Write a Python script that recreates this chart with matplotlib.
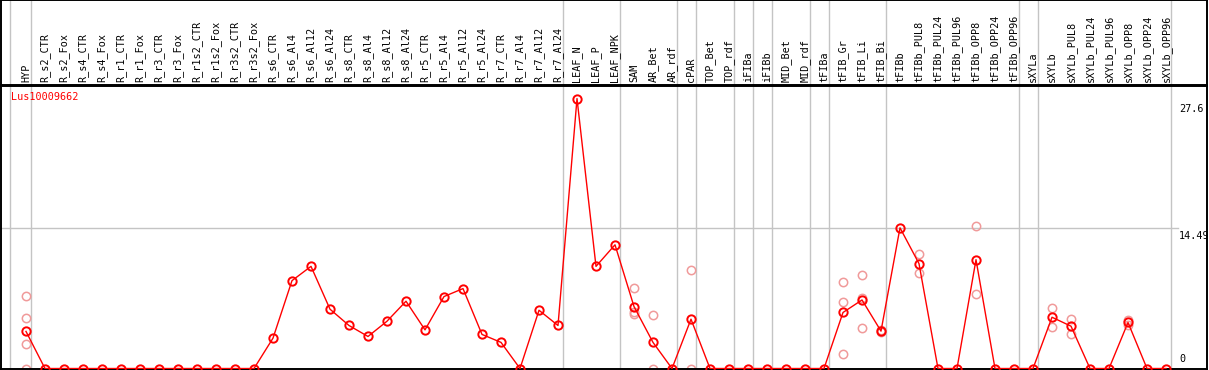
import matplotlib
matplotlib.use("Agg")
import matplotlib.pyplot as plt

# sample names, in plot order
samples = ["HYP", "R_s2_CTR", "R_s2_Fox", "R_s4_CTR", "R_s4_Fox", "R_r1_CTR", "R_r1_Fox",
           "R_r3_CTR", "R_r3_Fox", "R_r1s2_CTR", "R_r1s2_Fox", "R_r3s2_CTR", "R_r3s2_Fox",
           "R_s6_CTR", "R_s6_Al4", "R_s6_Al12", "R_s6_Al24", "R_s8_CTR", "R_s8_Al4",
           "R_s8_Al12", "R_s8_Al24", "R_r5_CTR", "R_r5_Al4", "R_r5_Al12", "R_r5_Al24",
           "R_r7_CTR", "R_r7_Al4", "R_r7_Al12", "R_r7_Al24", "LEAF_N", "LEAF_P", "LEAF_NPK",
           "SAM", "AR_Bet", "AR_rdf", "cPAR", "TOP_Bet", "TOP_rdf", "iFIBa", "iFIBb",
           "MID_Bet", "MID_rdf", "tFIBa", "tFIB_Gr", "tFIB_Li", "tFIB_Bi", "tFIBb",
           "tFIBb_PUL8", "tFIBb_PUL24", "tFIBb_PUL96", "tFIBb_OPP8", "tFIBb_OPP24",
           "tFIBb_OPP96", "sXYLa", "sXYLb", "sXYLb_PUL8", "sXYLb_PUL24", "sXYLb_PUL96",
           "sXYLb_OPP8", "sXYLb_OPP24", "sXYLb_OPP96"]

# mean expression per sample
means = [3.82, 0, 0, 0, 0, 0, 0, 0, 0, 0, 0, 0, 0,
         3.13, 9.05, 10.52, 6.11, 4.43, 3.30, 4.87, 6.93, 3.98, 7.41, 8.23, 3.51,
         2.69, 0, 6.00, 4.43, 27.8, 10.52, 12.74,
         6.38, 2.69, 0, 5.08, 0, 0, 0, 0, 0, 0, 0, 5.77, 7.06, 3.85, 14.49,
         10.80, 0, 0, 11.21, 0, 0, 0, 5.28, 4.36, 0, 0, 4.74, 0, 0]

# single replicates (sample, value)
rep_samples = ["HYP", "HYP", "HYP", "HYP", "SAM", "SAM", "SAM", "AR_Bet", "AR_Bet",
               "cPAR", "cPAR", "tFIB_Gr", "tFIB_Gr", "tFIB_Gr", "tFIB_Li", "tFIB_Li",
               "tFIB_Li", "tFIB_Bi", "tFIB_Bi", "tFIBb_PUL8", "tFIBb_PUL8",
               "tFIBb_OPP8", "tFIBb_OPP8", "sXYLb", "sXYLb", "sXYLb_PUL8", "sXYLb_PUL8",
               "sXYLb_OPP8", "sXYLb_OPP8"]
rep_values = [7.51, 5.25, 2.48, 0, 8.33, 5.62, 5.77, 5.46, 0,
              10.18, 0, 8.95, 6.90, 1.46, 9.67, 7.31,
              4.13, 4.0, 3.71, 11.75, 9.87,
              14.69, 7.72, 6.28, 4.23, 5.15, 3.51,
              4.95, 4.5]

# last sample of each tissue group (separator drawn after it)
group_ends = ["HYP", "R_r7_Al24", "LEAF_NPK", "AR_rdf", "cPAR", "TOP_rdf", "iFIBa",
              "iFIBb", "MID_rdf", "tFIBa", "tFIB_Bi", "tFIBb_OPP96", "sXYLa", "sXYLb_OPP96"]

gene = "Lus10009662"
ytick_vals = [27.6, 14.49, 0]

W, H = 1209, 370
fig = plt.figure(figsize=(W / 100, H / 100), dpi=100)
mono = "DejaVu Sans Mono"
fs = 7.3

# pixel helpers
left, right = 1, 1207
top_hdr, hdr_bot, plot_bot = 0, 85, 369
xpos = {s: i for i, s in enumerate(samples)}
xlim = ((left - 26) / 19, (right - 26) / 19)
pxu = 9.745
ylim = (-0.05, (369.5 - 86) / pxu)

ax = fig.add_axes([left / W, (H - plot_bot) / H, (right - left) / W, (plot_bot - 86) / H])
hdr = fig.add_axes([left / W, (H - hdr_bot) / H, (right - left) / W, (hdr_bot - top_hdr) / H])

gray = "#c4c4c4"
for a in (ax, hdr):
    a.set_xlim(*xlim)
    a.set_xticks([])
    a.set_yticks([])
    for sp in a.spines.values():
        sp.set_color("black")
        sp.set_linewidth(1.4)
    a.axvline(-0.84, color=gray, lw=1, zorder=0)
    for g in group_ends:
        a.axvline(xpos[g] + 0.25, color=gray, lw=1, zorder=0)

ax.set_ylim(*ylim)
ax.plot([xlim[0], 60.63], [14.49, 14.49], color=gray, lw=1, zorder=0)

# replicates
ax.plot([xpos[s] for s in rep_samples], rep_values, "o", ms=6, mfc="none",
        mec="#f09a9a", mew=1.1, ls="none", zorder=2)
# means
ax.plot(range(len(samples)), means, "-", color="red", lw=1, zorder=3)
ax.plot(range(len(samples)), means, "o", ms=6, mfc="none", mec="red", mew=1.4,
        ls="none", zorder=4)

ax.text(10 / (right - left), 0.96, gene, transform=ax.transAxes, color="red",
        family=mono, fontsize=fs, ha="left", va="center")

tx = (1179 - left) / (right - left)
for v in ytick_vals:
    if v == 0:
        ax.text(tx, v + 0.45, "0", transform=ax.get_yaxis_transform(), family=mono,
                fontsize=fs, ha="left", va="bottom")
    else:
        ax.text(tx, v - 0.35, str(v), transform=ax.get_yaxis_transform(), family=mono,
                fontsize=fs, ha="left", va="top")

hdr.set_ylim(0, hdr_bot - top_hdr)
for s in samples:
    hdr.text(xpos[s], 3, s, rotation=90, ha="center", va="bottom", family=mono,
             fontsize=fs)

fig.savefig("out.png", dpi=100)
